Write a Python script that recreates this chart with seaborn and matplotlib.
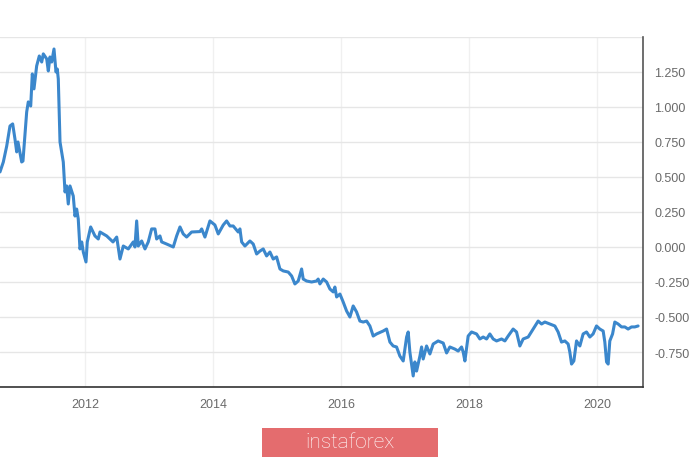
import pandas as pd
import seaborn as sns
import matplotlib.pyplot as plt
from matplotlib.patches import Rectangle

# decimal years and yield values
years = [
    2010.670, 2010.722, 2010.775, 2010.826, 2010.868, 2010.904, 2010.931, 2010.951,
    2011.009, 2011.029, 2011.087, 2011.112, 2011.150, 2011.175, 2011.201, 2011.243,
    2011.284, 2011.322, 2011.347, 2011.400, 2011.425, 2011.451, 2011.478, 2011.514,
    2011.545, 2011.565, 2011.581, 2011.608, 2011.659, 2011.686, 2011.712, 2011.737,
    2011.764, 2011.815, 2011.842, 2011.868, 2011.893, 2011.920, 2011.947, 2011.972,
    2012.014, 2012.034, 2012.087, 2012.154, 2012.206, 2012.233, 2012.337, 2012.436,
    2012.494, 2012.545, 2012.597, 2012.675, 2012.753, 2012.779, 2012.806, 2012.831,
    2012.884, 2012.936, 2012.987, 2013.040, 2013.092, 2013.118, 2013.170, 2013.197,
    2013.275, 2013.378, 2013.431, 2013.483, 2013.534, 2013.587, 2013.665, 2013.795,
    2013.822, 2013.873, 2013.951, 2014.029, 2014.081, 2014.159, 2014.212, 2014.264,
    2014.315, 2014.393, 2014.420, 2014.447, 2014.498, 2014.576, 2014.628, 2014.681,
    2014.733, 2014.784, 2014.837, 2014.889, 2014.940, 2014.993, 2015.045, 2015.097,
    2015.175, 2015.228, 2015.279, 2015.331, 2015.384, 2015.409, 2015.462, 2015.540,
    2015.618, 2015.643, 2015.670, 2015.722, 2015.775, 2015.826, 2015.878, 2015.904,
    2015.931, 2015.983, 2016.034, 2016.087, 2016.139, 2016.190, 2016.243, 2016.295,
    2016.347, 2016.400, 2016.451, 2016.503, 2016.556, 2016.659, 2016.712, 2016.764,
    2016.815, 2016.868, 2016.920, 2016.972, 2017.025, 2017.050, 2017.076, 2017.128,
    2017.154, 2017.181, 2017.233, 2017.259, 2017.284, 2017.337, 2017.389, 2017.440,
    2017.518, 2017.597, 2017.650, 2017.701, 2017.779, 2017.831, 2017.884, 2017.909,
    2017.936, 2017.987, 2018.040, 2018.118, 2018.170, 2018.222, 2018.275, 2018.326,
    2018.378, 2018.431, 2018.509, 2018.561, 2018.612, 2018.690, 2018.743, 2018.795,
    2018.847, 2018.925, 2019.003, 2019.081, 2019.134, 2019.186, 2019.264, 2019.342,
    2019.393, 2019.446, 2019.498, 2019.550, 2019.576, 2019.603, 2019.639, 2019.681,
    2019.733, 2019.784, 2019.837, 2019.889, 2019.940, 2019.993, 2020.045, 2020.097,
    2020.123, 2020.150, 2020.175, 2020.201, 2020.244, 2020.279, 2020.331, 2020.384,
    2020.436, 2020.487, 2020.540, 2020.592, 2020.643,
]
values = [
    0.536, 0.607, 0.721, 0.864, 0.879, 0.771, 0.679, 0.750,
    0.607, 0.614, 0.964, 1.036, 1.007, 1.236, 1.129, 1.293,
    1.364, 1.321, 1.379, 1.343, 1.257, 1.357, 1.321, 1.414,
    1.250, 1.271, 1.200, 0.750, 0.607, 0.393, 0.436, 0.307,
    0.436, 0.364, 0.221, 0.271, 0.200, -0.014, 0.036, -0.036,
    -0.107, 0.036, 0.143, 0.079, 0.057, 0.107, 0.079, 0.036,
    0.071, -0.086, 0.007, -0.014, 0.036, 0.000, 0.186, 0.007,
    0.043, -0.014, 0.036, 0.129, 0.129, 0.057, 0.079, 0.036,
    0.021, 0.000, 0.079, 0.143, 0.093, 0.071, 0.107, 0.110,
    0.129, 0.071, 0.186, 0.157, 0.093, 0.157, 0.186, 0.150,
    0.150, 0.107, 0.129, 0.036, 0.007, 0.043, 0.021, -0.050,
    -0.029, -0.014, -0.064, -0.036, -0.086, -0.071, -0.157, -0.171,
    -0.179, -0.207, -0.264, -0.243, -0.157, -0.229, -0.243, -0.250,
    -0.243, -0.229, -0.264, -0.229, -0.250, -0.300, -0.321, -0.286,
    -0.357, -0.336, -0.393, -0.457, -0.500, -0.421, -0.464, -0.529,
    -0.536, -0.529, -0.564, -0.636, -0.621, -0.600, -0.586, -0.679,
    -0.707, -0.714, -0.779, -0.814, -0.643, -0.607, -0.750, -0.921,
    -0.821, -0.886, -0.779, -0.714, -0.800, -0.707, -0.764, -0.693,
    -0.671, -0.686, -0.757, -0.714, -0.729, -0.743, -0.714, -0.750,
    -0.814, -0.636, -0.607, -0.621, -0.657, -0.643, -0.657, -0.621,
    -0.657, -0.671, -0.657, -0.671, -0.636, -0.586, -0.607, -0.707,
    -0.657, -0.643, -0.586, -0.529, -0.550, -0.536, -0.550, -0.564,
    -0.607, -0.679, -0.671, -0.693, -0.750, -0.836, -0.814, -0.671,
    -0.707, -0.621, -0.607, -0.643, -0.621, -0.564, -0.586, -0.600,
    -0.679, -0.821, -0.836, -0.671, -0.621, -0.536, -0.550, -0.571,
    -0.571, -0.586, -0.571, -0.571, -0.564,
]
x_ticks = [2012, 2014, 2016, 2018, 2020]
y_ticks = [-1.0, -0.75, -0.5, -0.25, 0.0, 0.25, 0.5, 0.75, 1.0, 1.25, 1.5]

df = pd.DataFrame({'year': years, 'value': values})

sns.set_style("white")
plt.rcParams['font.family'] = ['Liberation Sans', 'DejaVu Sans']

fig = plt.figure(figsize=(7, 4.6), dpi=100)
ax = fig.add_axes([0.0, 0.1565, 0.9186, 0.761])

sns.lineplot(data=df, x='year', y='value', color='#3b87cc', linewidth=2.2, ax=ax)

ax.set_xlim(2010.67, 2020.72)
ax.set_ylim(-1.0, 1.5)
ax.set_xlabel('')
ax.set_ylabel('')

ax.set_xticks(x_ticks)
ax.set_xticklabels([str(t) for t in x_ticks])
ax.set_yticks(y_ticks)
ax.set_yticklabels(['' if t in (-1.0, 1.5) else f'{t:.3f}' for t in y_ticks])

ax.yaxis.tick_right()
ax.tick_params(axis='y', which='both', right=True, left=False, length=6, width=1,
               color='#555555', pad=2, labelsize=9, labelcolor='#6a6a6a')
ax.tick_params(axis='x', length=0, pad=8, labelsize=9, labelcolor='#6a6a6a')

ax.grid(axis='y', color='#e6e6e6', linewidth=1)
ax.grid(axis='x', color='#f0f0f0', linewidth=1)

sns.despine(ax=ax, left=True, top=True, right=False, bottom=False)
ax.spines['right'].set_color('#555555')
ax.spines['right'].set_linewidth(1.2)
ax.spines['bottom'].set_color('#333333')
ax.spines['bottom'].set_linewidth(1.2)

# watermark badge
fig.add_artist(Rectangle((262 / 700, 1 - 458 / 460), 176 / 700, 29 / 460,
                         transform=fig.transFigure, facecolor='#e46c6e',
                         edgecolor='none'))
fig.text(350 / 700, 1 - 443 / 460, 'instaforex', ha='center', va='center',
         color='white', fontsize=15, family='Roboto', fontweight='light')

fig.savefig('out.png', dpi=100)
